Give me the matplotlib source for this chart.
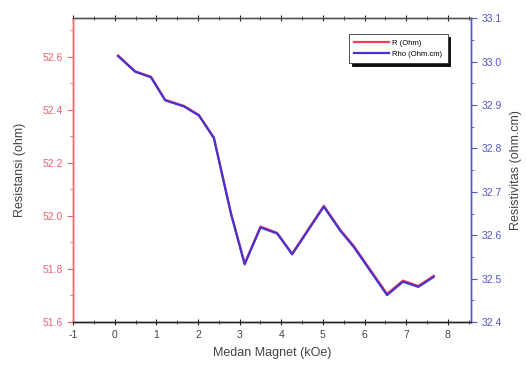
import matplotlib
matplotlib.use("Agg")
import matplotlib.pyplot as plt
from matplotlib.ticker import MultipleLocator

plt.rcParams["font.family"] = ["Liberation Sans", "DejaVu Sans"]
plt.rcParams["axes.unicode_minus"] = False

# magnetic field (kOe) and the two measured quantities
field = [0.08, 0.49, 0.87, 1.21, 1.66, 2.02, 2.38, 2.79, 3.12, 3.50, 3.90,
         4.26, 5.02, 5.42, 5.74, 6.54, 6.92, 7.29, 7.66]
R_ohm = [52.605, 52.545, 52.525, 52.438, 52.415, 52.381, 52.296, 52.011, 51.821,
         51.960, 51.936, 51.858, 52.038, 51.947, 51.887, 51.706, 51.756, 51.736,
         51.774]
rho_ohm_cm = [33.013, 32.977, 32.964, 32.911, 32.897, 32.876, 32.824, 32.650,
              32.533, 32.618, 32.604, 32.556, 32.666, 32.610, 32.573, 32.462,
              32.493, 32.481, 32.504]

RED = "#ff3b5c"
BLUE = "#4433cc"
LRED = "#f06070"
LBLUE = "#5555cc"

fig = plt.figure(figsize=(5.26, 3.74), dpi=100)
ax = fig.add_axes([0.139, 0.139, 0.756, 0.812])
ax2 = ax.twinx()

lr, = ax.plot(field, R_ohm, color=RED, lw=1.6, label="R (Ohm)", zorder=2)
lb, = ax2.plot(field, rho_ohm_cm, color=BLUE, lw=1.6, label="Rho (Ohm.cm)", zorder=3)

ax.set_xlim(-1, 8.55)
ax.set_ylim(51.6, 52.745)
ax2.set_ylim(32.4, 33.1)

ax.xaxis.set_major_locator(MultipleLocator(1))
ax.xaxis.set_minor_locator(MultipleLocator(0.5))
ax.yaxis.set_major_locator(MultipleLocator(0.2))
ax.yaxis.set_minor_locator(MultipleLocator(0.1))
ax2.yaxis.set_major_locator(MultipleLocator(0.1))
ax2.yaxis.set_minor_locator(MultipleLocator(0.05))
ax.yaxis.set_major_formatter(plt.FormatStrFormatter("%.1f"))
ax2.yaxis.set_major_formatter(plt.FormatStrFormatter("%.1f"))

ax.tick_params(axis="x", which="both", direction="inout", top=True,
               labelsize=7.5, labelcolor="#444444", color="#222222")
ax.tick_params(axis="x", which="major", length=5, pad=3)
ax.tick_params(axis="x", which="minor", length=3)
ax.tick_params(axis="y", which="both", direction="out", colors=LRED, labelsize=7.5)
ax.tick_params(axis="y", which="major", length=4)
ax.tick_params(axis="y", which="minor", length=2)
ax2.tick_params(axis="y", which="both", direction="out", colors=LBLUE, labelsize=7.5)
ax2.tick_params(axis="y", which="major", length=4)
ax2.tick_params(axis="y", which="minor", length=2)

for a in (ax, ax2):
    a.spines["left"].set_color(LRED)
    a.spines["right"].set_color(LBLUE)
    a.spines["top"].set_color("#555555")
    a.spines["bottom"].set_color("#222222")
    for s in a.spines.values():
        s.set_linewidth(1.0)

ax.set_xlabel("Medan Magnet (kOe)", fontsize=9, color="#444444", labelpad=5)
ax.set_ylabel("Resistansi (ohm)", fontsize=9, color="#444444", labelpad=12)
ax2.set_ylabel("Resistivitas (ohm.cm)", fontsize=9, color="#444444", labelpad=6)

leg = ax2.legend(handles=[lr, lb], loc="upper right", bbox_to_anchor=(0.942, 0.947),
                 fontsize=5.5, frameon=True, fancybox=False,
                 shadow={"color": "black", "alpha": 0.95},
                 handlelength=4.5, borderpad=0.7, labelspacing=0.4,
                 handletextpad=0.5, borderaxespad=0)
leg.get_frame().set_edgecolor("#333333")
leg.get_frame().set_linewidth(0.6)
leg.get_frame().set_alpha(1.0)

fig.savefig("out.png", dpi=100)
